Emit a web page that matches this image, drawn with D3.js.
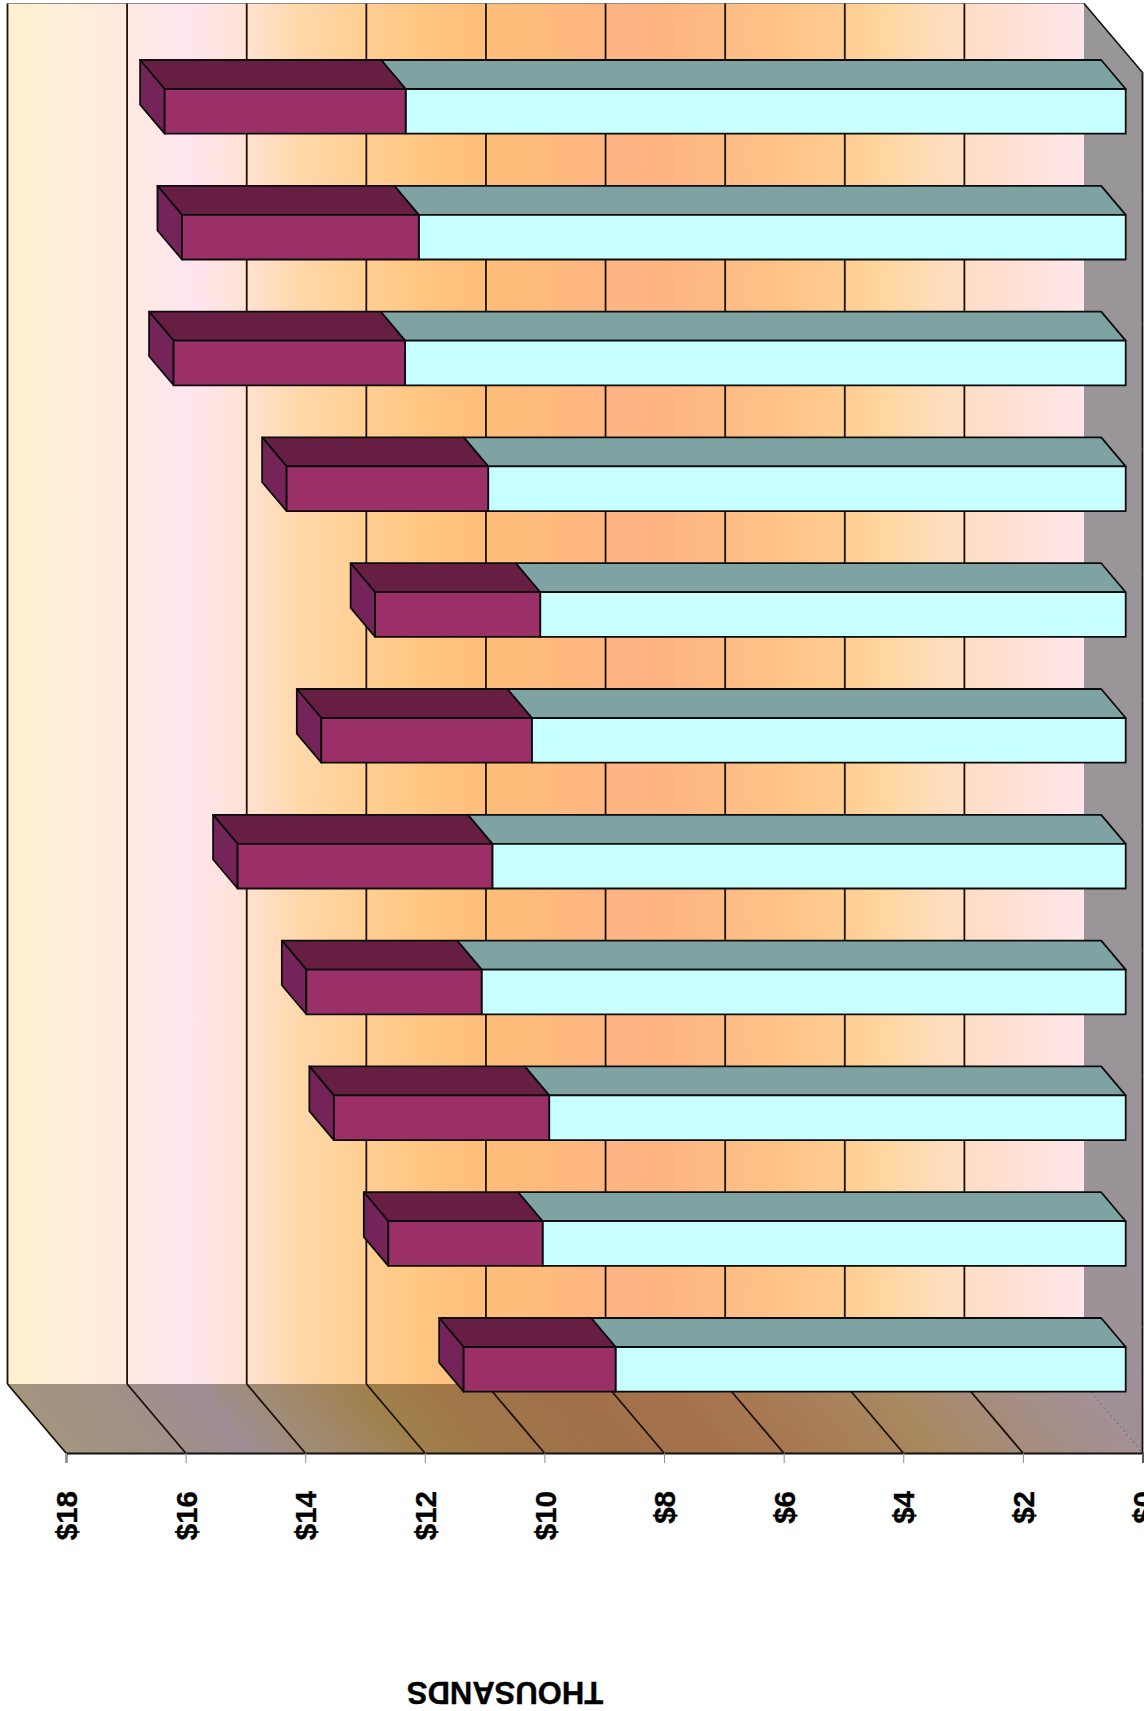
<!DOCTYPE html>
<html>
<head>
<meta charset="utf-8">
<style>
  html, body { margin: 0; padding: 0; background: #fff; }
  svg { display: block; }
  text { font-family: "Liberation Sans", Arial, sans-serif; font-weight: bold; fill: #000; stroke: #000; stroke-width: 0.35; }
</style>
<script src="https://cdnjs.cloudflare.com/ajax/libs/d3/7.8.5/d3.min.js"></script>
</head>
<body>
<svg id="chart" width="1144" height="1711"></svg>
<script>
// Stacked 3D horizontal bars, one row per period, values in thousands of dollars.
const periods = ["1","2","3","4","5","6","7","8","9","10","11"];
const lowerSeries = [12.04, 11.82, 12.05, 10.66, 9.79, 9.93, 10.59, 10.77, 9.64, 9.75, 8.53];
const upperSeries = [4.03, 3.96, 3.87, 3.37, 2.76, 3.52, 4.26, 2.93, 3.60, 2.58, 2.54];
const tickValues = [0, 2, 4, 6, 8, 10, 12, 14, 16, 18];
const axisTitle = "THOUSANDS";

// Wall tint across the dollar range: [position on the back wall, colour].
const wallStops = [[8,"#FFF0D0"],[60,"#FFEFD8"],[120,"#FFE9DE"],[190,"#FFE5F0"],[245,"#FFE2D2"],[300,"#FFD8AA"],[366,"#FFCF92"],[430,"#FFC580"],[490,"#FFBD7A"],[550,"#FFBA7C"],[610,"#FFB583"],[660,"#FFB482"],[725,"#FFBC84"],[790,"#FFC488"],[850,"#FFCE92"],[880,"#FFD69E"],[930,"#FFDCB8"],[1000,"#FFDFD0"],[1084,"#FFE6EA"]];
const floorStops = [[8,"#A3957F"],[120,"#A09088"],[190,"#9F8E96"],[250,"#A08C78"],[366,"#A0804A"],[430,"#A07848"],[550,"#A0704A"],[660,"#A5714A"],[790,"#A87E58"],[880,"#A8885F"],[1000,"#A58E84"],[1084,"#A49096"]];

const svg = d3.select("#chart");

// Box geometry: front plane of the floor plus the oblique depth offset.
const depthX = 58.5, depthY = 69;
const floorY = 1453, wallTop = 3.5;
const floorBackY = floorY - depthY;
const frontX = d3.scaleLinear().domain([0, 18]).range([1142.5, 66]);
const backX = v => frontX(v) - depthX;

// Bars sit inside the box, slightly forward of the back wall.
const barX = d3.scaleLinear().domain([0, 18]).range([1125.7, 49.2]);
const barDepthX = 24.5, barDepthY = 29;
const rowY = d3.scaleBand().domain(periods).range([48.45, 1432.25]).paddingInner(0.645).paddingOuter(0.3225);

const defs = svg.append("defs");
function addGradient(id, stops, transform) {
  const span = d3.scaleLinear().domain([8, 1084]).range([0, 1]);
  const g = defs.append("linearGradient").attr("id", id)
    .attr("gradientUnits", "userSpaceOnUse")
    .attr("x1", 8).attr("x2", 1084).attr("y1", 0).attr("y2", 0);
  if (transform) g.attr("gradientTransform", transform);
  g.selectAll("stop").data(stops).join("stop")
    .attr("offset", d => span(d[0]))
    .attr("stop-color", d => d[1]);
}
addGradient("wallFill", wallStops);
// The floor tint follows the shear of the floor plane.
const shear = depthX / depthY;
addGradient("floorFill", floorStops, `matrix(1 0 ${shear} 1 ${-shear * floorBackY} 0)`);
const sideFill = defs.append("linearGradient").attr("id", "sideFill")
  .attr("x1", 0).attr("x2", 0).attr("y1", 0).attr("y2", 1);
sideFill.append("stop").attr("offset", 0).attr("stop-color", "#999698");
sideFill.append("stop").attr("offset", 0.85).attr("stop-color", "#9A9498");
sideFill.append("stop").attr("offset", 1).attr("stop-color", "#A08F96");

const poly = pts => pts.map(p => p.join(",")).join(" ");

// Back wall, side wall and floor.
svg.append("rect")
  .attr("x", backX(18)).attr("y", wallTop)
  .attr("width", backX(0) - backX(18)).attr("height", floorBackY - wallTop)
  .attr("fill", "url(#wallFill)");
svg.append("polygon")
  .attr("points", poly([[backX(0), wallTop], [frontX(0), wallTop + depthY], [frontX(0), floorY], [backX(0), floorBackY]]))
  .attr("fill", "url(#sideFill)");
svg.append("polygon")
  .attr("points", poly([[backX(18), floorBackY], [backX(0), floorBackY], [frontX(0), floorY], [frontX(18), floorY]]))
  .attr("fill", "url(#floorFill)");

// Box outline.
svg.append("line").attr("x1", backX(18)).attr("x2", backX(0)).attr("y1", wallTop).attr("y2", wallTop)
  .attr("stroke", "#8a8a8a").attr("stroke-width", 1.2);
svg.append("line").attr("x1", backX(0)).attr("y1", wallTop).attr("x2", frontX(0)).attr("y2", wallTop + depthY)
  .attr("stroke", "#111").attr("stroke-width", 1.6);
svg.append("line").attr("x1", frontX(0)).attr("x2", frontX(0)).attr("y1", wallTop + depthY).attr("y2", floorY)
  .attr("stroke", "#111").attr("stroke-width", 1.8);
svg.append("line").attr("x1", backX(0)).attr("y1", floorBackY).attr("x2", frontX(0)).attr("y2", floorY)
  .attr("stroke", "#6f6a70").attr("stroke-width", 1).attr("stroke-dasharray", "3 2");

// Gridlines up the back wall and across the floor.
const grid = svg.append("g").attr("stroke", "#1a1208").attr("stroke-width", 1.8);
const gridValues = tickValues.filter(v => v > 0);
grid.selectAll("line.wall").data(gridValues).join("line").attr("class", "wall")
  .attr("x1", backX).attr("x2", backX).attr("y1", wallTop).attr("y2", floorBackY);
grid.selectAll("line.floor").data(gridValues).join("line").attr("class", "floor")
  .attr("x1", backX).attr("y1", floorBackY).attr("x2", frontX).attr("y2", floorY);

// Dollar axis along the front edge of the floor.
const axis = d3.axisBottom(frontX).tickValues(tickValues).tickSize(10).tickPadding(0)
  .tickFormat(d => "$" + d);
const axisG = svg.append("g").attr("transform", `translate(0,${floorY})`).call(axis);
axisG.select(".domain").attr("stroke", "#111").attr("stroke-width", 1.8);
axisG.selectAll(".tick line").attr("stroke", "#8a8a8a").attr("stroke-width", 1);
axisG.selectAll(".tick text")
  .attr("transform", "translate(0,38) rotate(-90)")
  .attr("x", 0).attr("y", 0).attr("dy", "0.36em")
  .attr("text-anchor", "end")
  .attr("font-size", 29.5)
  .attr("font-weight", "bold")
  .attr("font-family", '"Liberation Sans", Arial, sans-serif');

// Period ticks on the right edge of the box.
const edgeY = d3.scaleBand().domain(periods).range([wallTop + depthY, floorY]);
svg.append("g").selectAll("line").data(periods).join("line")
  .attr("x1", frontX(0)).attr("x2", 1144)
  .attr("y1", d => edgeY(d)).attr("y2", d => edgeY(d))
  .attr("stroke", "#8a8a8a").attr("stroke-width", 1);

svg.append("text")
  .attr("transform", "translate(505,1693) rotate(180)")
  .attr("text-anchor", "middle").attr("dy", "0.36em")
  .attr("font-size", 31)
  .text(axisTitle);

// Bars: top faces first, then the end cap, then the front faces.
const stacked = periods.map((p, i) => ({
  period: p,
  lower: lowerSeries[i],
  total: lowerSeries[i] + upperSeries[i]
}));
const rows = svg.append("g").attr("stroke", "#0c0c0c").attr("stroke-width", 1.8).attr("stroke-linejoin", "round")
  .selectAll("g").data(stacked).join("g");

function topFace(a, b, y) {
  return poly([[barX(a), y], [barX(b), y], [barX(b) - barDepthX, y - barDepthY], [barX(a) - barDepthX, y - barDepthY]]);
}
rows.append("polygon").attr("fill", "#7FA3A3")
  .attr("points", d => topFace(0, d.lower, rowY(d.period)));
rows.append("polygon").attr("fill", "#661F42")
  .attr("points", d => topFace(d.lower, d.total, rowY(d.period)));
rows.append("polygon").attr("fill", "#75245A")
  .attr("points", d => {
    const x = barX(d.total), y = rowY(d.period), h = rowY.bandwidth();
    return poly([[x, y], [x - barDepthX, y - barDepthY], [x - barDepthX, y + h - barDepthY], [x, y + h]]);
  });
rows.append("rect").attr("fill", "#C8FFFF")
  .attr("x", d => barX(d.lower)).attr("y", d => rowY(d.period))
  .attr("width", d => barX(0) - barX(d.lower)).attr("height", rowY.bandwidth());
rows.append("rect").attr("fill", "#9B3068")
  .attr("x", d => barX(d.total)).attr("y", d => rowY(d.period))
  .attr("width", d => barX(d.lower) - barX(d.total)).attr("height", rowY.bandwidth());
</script>
</body>
</html>
